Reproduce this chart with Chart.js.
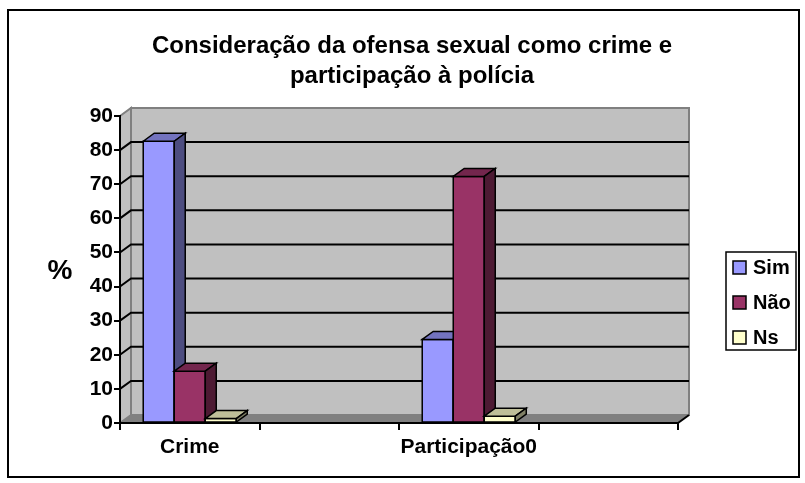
<!DOCTYPE html>
<html>
<head>
<meta charset="utf-8">
<script src="https://cdn.jsdelivr.net/npm/chart.js@4.4.1/dist/chart.umd.min.js"></script>
<style>
  body { margin: 0; background: #fff; }
  canvas { display: block; }
</style>
</head>
<body>
<canvas id="chart" width="805" height="483"></canvas>
<script>
// chart data
const categories = ["Crime", "", "Participação0", ""];
const simValues = [82.6, null, 24.5, null];
const naoValues = [15.2, null, 72.3, null];
const nsValues = [1.3, null, 2.0, null];
const seriesNames = ["Sim", "Não", "Ns"];
const seriesColors = ["#9999FF", "#993366", "#FFFFCC"];
const titleLines = ["Consideração da ofensa sexual como crime e", "participação à polícia"];
const yLabel = "%";

const FONT = "'Liberation Sans', Arial, sans-serif";
const DX = 11, DY = 8; // depth of the 3d look

function shade(hex, f) {
  const n = parseInt(hex.slice(1), 16);
  const r = Math.round(((n >> 16) & 255) * f);
  const g = Math.round(((n >> 8) & 255) * f);
  const b = Math.round((n & 255) * f);
  return "rgb(" + r + "," + g + "," + b + ")";
}

function poly(ctx, pts, fill, stroke, lw) {
  ctx.beginPath();
  ctx.moveTo(pts[0][0], pts[0][1]);
  for (let i = 1; i < pts.length; i++) ctx.lineTo(pts[i][0], pts[i][1]);
  ctx.closePath();
  if (fill) { ctx.fillStyle = fill; ctx.fill(); }
  if (stroke) { ctx.strokeStyle = stroke; ctx.lineWidth = lw; ctx.stroke(); }
}

const excel3d = {
  id: "excel3d",
  beforeDraw(chart) {
    const ctx = chart.ctx;
    const a = chart.chartArea;
    const yScale = chart.scales.y;
    ctx.save();
    ctx.fillStyle = "#fff";
    ctx.fillRect(0, 0, chart.width, chart.height);

    // outer frame
    ctx.strokeStyle = "#000";
    ctx.lineWidth = 2;
    ctx.strokeRect(8, 10, 791, 467);

    // title
    ctx.fillStyle = "#000";
    ctx.textAlign = "center";
    ctx.textBaseline = "alphabetic";
    ctx.font = "bold 24px " + FONT;
    ctx.fillText(titleLines[0], 412, 53);
    ctx.fillText(titleLines[1], 412, 83);

    // axis title
    ctx.font = "bold 28px " + FONT;
    ctx.textBaseline = "middle";
    ctx.fillText(yLabel, 60, 271);

    // legend
    ctx.lineWidth = 1.5;
    ctx.strokeRect(726, 252, 70, 98);
    ctx.textAlign = "left";
    ctx.font = "bold 20px " + FONT;
    seriesNames.forEach((name, i) => {
      const y = 261 + i * 35;
      ctx.fillStyle = seriesColors[i];
      ctx.fillRect(733, y, 13, 13);
      ctx.strokeStyle = "#000";
      ctx.lineWidth = 1.5;
      ctx.strokeRect(733, y, 13, 13);
      ctx.fillStyle = "#000";
      ctx.fillText(name, 753, y + 7.5);
    });

    // side wall, back wall, floor
    poly(ctx, [[a.left, a.top], [a.left + DX, a.top - DY], [a.left + DX, a.bottom - DY], [a.left, a.bottom]], "#C0C0C0", "#808080", 2);
    poly(ctx, [[a.left + DX, a.top - DY], [a.right + DX, a.top - DY], [a.right + DX, a.bottom - DY], [a.left + DX, a.bottom - DY]], "#C0C0C0", "#808080", 2);
    poly(ctx, [[a.left, a.bottom], [a.right, a.bottom], [a.right + DX, a.bottom - DY], [a.left + DX, a.bottom - DY]], "#808080", null, 0);

    // gridlines on the walls
    ctx.strokeStyle = "#000";
    ctx.lineWidth = 2;
    yScale.ticks.forEach((t) => {
      if (t.value <= 0 || t.value >= yScale.max) return;
      const y = yScale.getPixelForValue(t.value);
      ctx.beginPath();
      ctx.moveTo(a.left, y);
      ctx.lineTo(a.left + DX, y - DY);
      ctx.lineTo(a.right + DX, y - DY);
      ctx.stroke();
    });
    ctx.beginPath();
    ctx.moveTo(a.right, a.bottom);
    ctx.lineTo(a.right + DX, a.bottom - DY);
    ctx.stroke();
    ctx.restore();
  },
  afterDatasetsDraw(chart) {
    const ctx = chart.ctx;
    ctx.save();
    ctx.lineJoin = "miter";
    chart.data.datasets.forEach((ds, di) => {
      const meta = chart.getDatasetMeta(di);
      meta.data.forEach((bar, i) => {
        if (ds.data[i] == null) return;
        const p = bar.getProps(["x", "y", "base", "width"], true);
        const l = p.x - p.width / 2, r = p.x + p.width / 2;
        const c = ds.backgroundColor;
        poly(ctx, [[l, p.y], [r, p.y], [r, p.base], [l, p.base]], c, "#000", 1.5);
        poly(ctx, [[l, p.y], [l + DX, p.y - DY], [r + DX, p.y - DY], [r, p.y]], shade(c, 0.75), "#000", 1.5);
        poly(ctx, [[r, p.y], [r + DX, p.y - DY], [r + DX, p.base - DY], [r, p.base]], shade(c, 0.5), "#000", 1.5);
      });
    });
    ctx.restore();
  }
};

const tickFont = { family: FONT, size: 21, weight: "bold" };

new Chart(document.getElementById("chart"), {
  type: "bar",
  data: {
    labels: categories,
    datasets: [
      { label: seriesNames[0], data: simValues, backgroundColor: seriesColors[0], borderColor: "#000", borderWidth: 1.5 },
      { label: seriesNames[1], data: naoValues, backgroundColor: seriesColors[1], borderColor: "#000", borderWidth: 1.5 },
      { label: seriesNames[2], data: nsValues, backgroundColor: seriesColors[2], borderColor: "#000", borderWidth: 1.5 },
    ],
  },
  options: {
    responsive: false,
    animation: false,
    events: [],
    layout: { padding: { top: 116, right: 127, left: 0, bottom: 0 } },
    datasets: { bar: { categoryPercentage: 0.667, barPercentage: 1 } },
    plugins: {
      legend: { display: false },
      title: { display: false },
      tooltip: { enabled: false },
    },
    scales: {
      x: {
        grid: { offset: true, drawOnChartArea: false, tickLength: 7, color: "#000", lineWidth: 2 },
        border: { color: "#000", width: 2 },
        ticks: { color: "#000", font: tickFont, padding: 5, maxRotation: 0, autoSkip: false },
        afterFit(scale) { scale.height = 60; },
      },
      y: {
        min: 0,
        max: 90,
        grid: { drawOnChartArea: false, tickLength: 6, color: "#000", lineWidth: 2 },
        border: { color: "#000", width: 2 },
        ticks: { stepSize: 10, color: "#000", font: tickFont, padding: 1 },
        afterFit(scale) { scale.width = 120; },
      },
    },
  },
  plugins: [excel3d],
});
</script>
</body>
</html>
